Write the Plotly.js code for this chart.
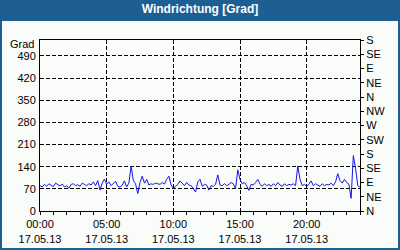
<!DOCTYPE html>
<html>
<head>
<meta charset="utf-8">
<script src="https://cdn.plot.ly/plotly-3.0.1.min.js"></script>
<style>html,body{margin:0;padding:0;background:#1d5e93;}#chart{width:400px;height:250px;}</style>
</head>
<body>
<div id="chart"></div>
<script>
// Wind direction in degrees, 10-minute samples, 17.05.2013 00:00 .. 18.05.2013 00:00
const windDir = [
  80, 76, 84, 78, 86, 80,
  77, 88, 82, 79, 85, 76,
  80, 72, 84, 86, 80, 83,
  78, 88, 84, 80, 86, 82,
  92, 80, 96, 66, 88, 101,
  84, 92, 80, 88, 94, 78,
  75, 82, 95, 76, 88, 142,
  96, 86, 55, 90, 110, 88,
  100, 82, 86, 84, 88, 86,
  84, 90, 85, 100, 110, 82,
  72, 78, 84, 95, 86, 80,
  90, 82, 80, 70, 60, 92,
  100, 78, 84, 82, 66, 80,
  78, 84, 114, 82, 80, 86,
  80, 84, 90, 86, 70, 130,
  100, 86, 90, 80, 65, 84,
  82, 90, 100, 84, 78, 86,
  80, 84, 78, 86, 80, 90,
  82, 78, 86, 80, 84, 82,
  86, 80, 142, 100, 80, 84,
  78, 84, 95, 80, 86, 82,
  78, 86, 80, 84, 82, 88,
  80, 92, 118, 96, 88, 100,
  90, 85, 40, 175, 135, 80,
  75
];
const startTime = '2013-05-17 00:00';
const endTime = '2013-05-18 00:00';
const sampleMinutes = 10;

const xTickVals = ['2013-05-17 00:00','2013-05-17 05:00','2013-05-17 10:00','2013-05-17 15:00','2013-05-17 20:00'];
const xTickText = ['00:00<br>17.05.13','05:00<br>17.05.13','10:00<br>17.05.13','15:00<br>17.05.13','20:00<br>17.05.13'];
const yTickVals = [0,70,140,210,280,350,420,490];
const y2TickVals = [0,45,90,135,180,225,270,315,360,405,450,495,540];
const y2TickText = ['N','NE','E','SE','S','SW','W','NW','N','NE','E','SE','S'];

function pad(n){return (n<10?'0':'')+n;}
const times = windDir.map((v,i)=>{
  const d = new Date(Date.UTC(2013,4,17,0,0,0) + i*sampleMinutes*60000);
  return d.getUTCFullYear()+'-'+pad(d.getUTCMonth()+1)+'-'+pad(d.getUTCDate())+' '+pad(d.getUTCHours())+':'+pad(d.getUTCMinutes());
});

const font = {family:'"Liberation Sans", Arial, sans-serif', size:11, color:'#000'};

const data = [
  {x: times, y: windDir, type:'scatter', mode:'lines',
   line:{color:'#1414e6', width:1}, hoverinfo:'skip', showlegend:false},
  // empty trace so the right-hand compass axis is drawn
  {x: [startTime], y: [null], yaxis:'y2', type:'scatter', mode:'lines',
   hoverinfo:'skip', showlegend:false}
];

const layout = {
  width:400, height:250,
  margin:{l:40, r:40, t:40, b:39, pad:0},
  paper_bgcolor:'#1d5e93',
  plot_bgcolor:'#fafcfa',
  font: font,
  title:{text:'<b>Windrichtung [Grad]</b>', font:{family:'"Liberation Sans", Arial, sans-serif', size:12, color:'#ffffff'}, x:0.5, xanchor:'center', y:1, yref:'container', yanchor:'top', pad:{t:5}},
  showlegend:false,
  shapes:[{type:'rect', xref:'paper', yref:'paper', x0:-0.11875, x1:1.11875, y0:-0.2164, y1:1.1111, fillcolor:'#fafcfa', line:{width:0}, layer:'below'}],
  xaxis:{
    type:'date', range:[startTime, endTime],
    tickmode:'array', tickvals:xTickVals, ticktext:xTickText,
    ticks:'outside', ticklen:3, tickcolor:'#000',
    minor:{dtick:3600000, ticks:'outside', ticklen:3, tickcolor:'#000', showgrid:false},
    showgrid:true, gridcolor:'#000', gridwidth:1, griddash:'4px,2px',
    showline:true, linecolor:'#000', linewidth:1, mirror:true,
    zeroline:false, tickfont:font, fixedrange:true
  },
  yaxis:{
    range:[0,540], tickmode:'array', tickvals:yTickVals,
    ticks:'', ticklabelstandoff:1, showgrid:true, gridcolor:'#000', gridwidth:1, griddash:'4px,2px',
    showline:true, linecolor:'#000', linewidth:1, mirror:true,
    zeroline:false, tickfont:font, fixedrange:true
  },
  yaxis2:{
    overlaying:'y', side:'right', range:[0,540],
    tickmode:'array', tickvals:y2TickVals, ticktext:y2TickText,
    ticks:'outside', ticklen:3, tickcolor:'#000',
    showgrid:false, zeroline:false, showline:false, tickfont:font, fixedrange:true
  },
  annotations:[{text:'Grad', xref:'paper', yref:'paper', x:-0.0125, y:0.975, xanchor:'right', yanchor:'middle', showarrow:false, font:font}]
};

Plotly.newPlot('chart', data, layout, {displayModeBar:false, staticPlot:true});
</script>
</body>
</html>
